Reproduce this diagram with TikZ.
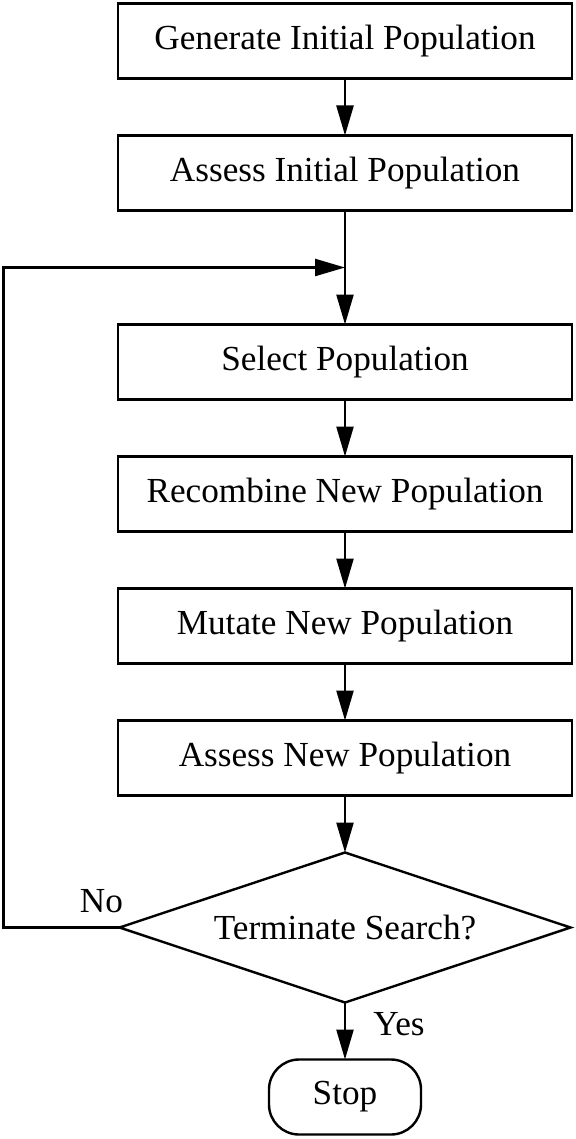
\documentclass[tikz,border=0pt]{standalone}
\usepackage{fontspec}
\setmainfont{Liberation Serif}
\usepackage{tikz}
\usetikzlibrary{calc, shapes, positioning, arrows.meta}

\begin{document}
\begin{tikzpicture}
[
    x = 0.5pt, y = -0.5pt,
    line width = 1.2pt,
    every node/.style = {font = \fontsize{17.6}{21}\selectfont, outer sep = 0pt},
    >= {Triangle[length = 15pt, width = 8.5pt]}
  ]

  \tikzset{BoxStyle/.style = {shape          = rectangle,
                                draw,
                                text           = black,
                                minimum width  = 227pt,
                                minimum height = 37.5pt},
           DecisionStyle/.style = {shape          = diamond,
                                draw,
                                aspect         = 3,
                                inner sep      = 0pt,
                                minimum width  = 225.5pt,
                                minimum height = 75pt},
           StopStyle/.style = {shape          = rectangle,
                                draw,
                                rounded corners = 15pt,
                                minimum width  = 76pt,
                                minimum height = 37.5pt}}

  \useasboundingbox (0,0) rectangle (575,1139);

  \begin{scope}[node distance = 28.5pt]
  \node[BoxStyle] (b1) at (345,41) {Generate Initial Population};
  \node[BoxStyle, below= of b1] (b2) {Assess Initial Population};
  \node[BoxStyle, below= 57pt of b2] (b3) {Select Population};
  \node[BoxStyle, below= of b3] (b4) {Recombine New Population};
  \node[BoxStyle, below= of b4] (b5) {Mutate New Population};
  \node[BoxStyle, below= of b5] (b6) {Assess New Population};
  \node[DecisionStyle, below= of b6] (q) {Terminate Search?};
  \node[StopStyle, below= of q] (stop) {Stop};
  \end{scope}

  \coordinate (join) at ($(b2.south)!0.5!(b3.north)$);

  \draw[->] (b1) to (b2);
  \draw[->] (b2) to (b3);
  \draw[->] (b3) to (b4);
  \draw[->] (b4) to (b5);
  \draw[->] (b5) to (b6);
  \draw[->] (b6) to (q);
  \draw[->] (q) to (stop);
  \draw[->] (q.west) -- ++(-116,0) |- (join);

  \node (no) at ([xshift=-9pt, yshift=13pt]q.west) {No};
  \node (yes) at ([xshift=27pt, yshift=-11pt]q.south) {Yes};
\end{tikzpicture}
\end{document}
